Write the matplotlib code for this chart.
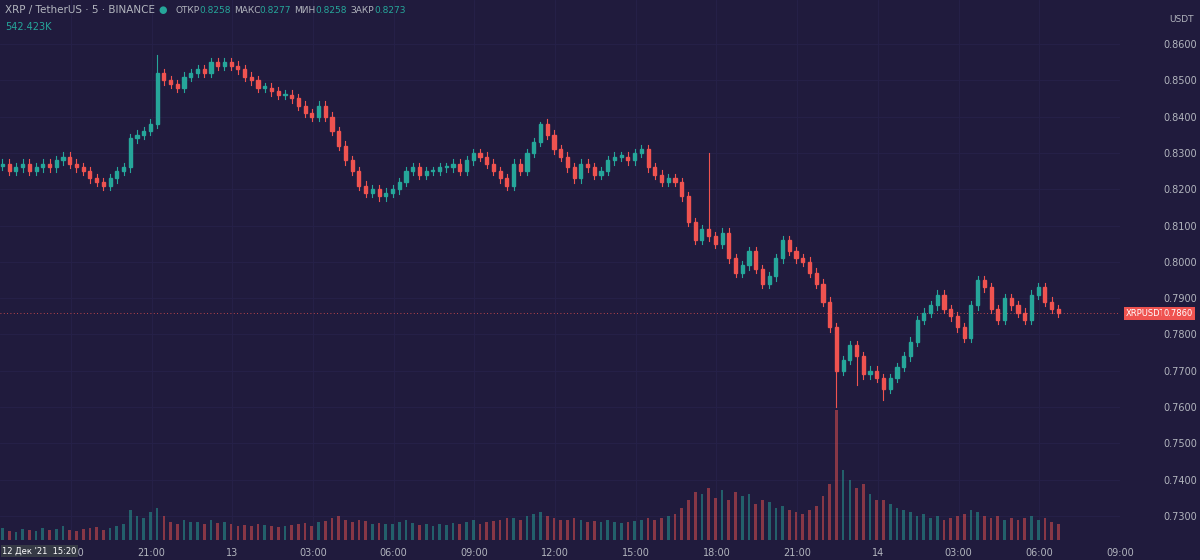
import matplotlib
matplotlib.use("Agg")
import matplotlib.pyplot as plt
from matplotlib.patches import Rectangle

closes = [0.827,0.825,0.826,0.827,0.825,0.826,0.827,0.826,
 0.828,0.829,0.827,0.826, 0.825,0.823,0.822,0.821, 0.823,0.825,0.826,
 0.834,0.835,0.836,0.838, 0.852, 0.850,0.849,0.848,0.851,0.852,
 0.853,0.852,0.855,0.854,0.855, 0.854,0.853,0.851,0.850,0.848,
 0.848,0.847,0.846,0.846,0.845, 0.843,0.841,0.840,0.843,
 0.840,0.836,0.832,0.828,0.825, 0.821,0.819,0.820,0.818,0.819,
 0.820,0.822,0.825,0.826, 0.824,0.825,0.825,0.826,0.826,
 0.827,0.825,0.828,0.830, 0.829,0.827,0.825,0.823,0.821,
 0.827,0.825,0.830,0.833,0.838, 0.835,0.831,0.829,0.826,
 0.823,0.827,0.826,0.824,0.825, 0.828,0.829,0.829,0.828,0.830,
 0.831,0.826,0.824,0.822,0.823, 0.822,0.818,0.811,0.806,
 0.809,0.807,0.805,0.808, 0.801,0.797,0.799,0.803,
 0.798,0.794,0.796,0.801, 0.806,0.803,0.801,0.800,
 0.797,0.794,0.789,0.782, 0.770,0.773,0.777,
 0.774,0.769,0.770,0.768, 0.765,0.768,0.771,0.774,
 0.778,0.784,0.786,0.788, 0.791,0.787,0.785,0.782,
 0.779,0.788,0.795,0.793, 0.787,0.784,0.790,0.788,
 0.786,0.784,0.791,0.793, 0.789,0.787,0.786]
first_open = 0.8265
spike_highs = {23: 0.857, 105: 0.830, 80: 0.8385, 116: 0.807}
spike_lows = {124: 0.760, 131: 0.762, 127: 0.766}
volumes = [60,45,40,55,50,45,60,50, 55,70,50,45, 55,60,65,50, 60,70,80,
 150,120,110,140, 160, 120,90,80,100,90, 90,80,100,85,90, 80,70,75,70,80,
 75,70,65,70,75, 80,85,70,90, 95,110,120,100,90, 100,95,80,85,80,
 80,90,100,85, 75,80,70,80,75, 85,80,90,100, 80,90,95,100,110,
 110,100,120,130,140, 120,110,100,100, 110,100,90,95,90, 100,90,85,90,95,
 100,110,100,110,120, 130,160,200,240, 230,260,210,250, 200,240,220,230,
 180,200,190,160, 170,150,140,130, 150,170,220,280, 650,350,300,
 260,280,230,200, 200,180,160,150, 140,120,130,110, 120,100,110,120,
 130,150,140,120, 110,120,100,110, 100,110,120,100, 110,90,80]
tick_labels = ["18:00","21:00","13","03:00","06:00","09:00","12:00","15:00",
 "18:00","21:00","14","03:00","06:00","09:00"]
price_ticks = [0.73,0.74,0.75,0.76,0.77,0.78,0.79,0.80,0.81,0.82,0.83,0.84,0.85,0.86]

BG = "#201b3d"; UP = "#26a69a"; DN = "#ef5350"; TXT = "#b2b5be"
fig = plt.figure(figsize=(12, 5.6), dpi=100, facecolor=BG)
ax = fig.add_axes([0, 20/560, 1120/1200, 540/560], facecolor=BG)
axv = ax.twinx()
axv.set_ylim(0, 2700); axv.axis("off")

prev = first_open
for i, c in enumerate(closes):
    o = prev
    x = i*15 + 7.5
    col = UP if c >= o else DN
    hi = spike_highs.get(i, max(o, c) + 0.0012)
    lo = spike_lows.get(i, min(o, c) - 0.0012)
    ax.plot([x, x], [lo, hi], color=col, lw=0.8, zorder=3)
    ax.add_patch(Rectangle((x-3.5, min(o, c)), 7, max(abs(c-o), 0.0003), color=col, zorder=4))
    axv.bar(x, volumes[i], width=6, color=col, alpha=0.5, zorder=2)
    prev = c

ax.set_xlim(2, 2461)
ax.set_ylim(0.7234, 0.8721)
ax.set_xticks([160 + 180*k for k in range(len(tick_labels))])
ax.set_xticklabels(tick_labels)
ax.yaxis.tick_right()
ax.set_yticks(price_ticks)
ax.set_yticklabels([f"{p:.4f}" for p in price_ticks])
ax.tick_params(colors=TXT, labelsize=7, length=0, pad=6)
ax.tick_params(axis="y", pad=31)
for s in ax.spines.values():
    s.set_visible(False)
ax.grid(color="#26214a", lw=0.6)
ax.axhline(0.7860, color=DN, lw=0.6, ls=(0, (1, 3)))

fig.text(0.004, 0.982, "XRP / TetherUS · 5 · BINANCE", color=TXT, fontsize=7.5, va="center")
fig.text(0.132, 0.982, "●", color=UP, fontsize=7, va="center")
fig.text(0.146, 0.982, "ОТКР", color=TXT, fontsize=6.5, va="center")
fig.text(0.166, 0.982, "0.8258", color=UP, fontsize=6.5, va="center")
fig.text(0.195, 0.982, "МАКС", color=TXT, fontsize=6.5, va="center")
fig.text(0.216, 0.982, "0.8277", color=UP, fontsize=6.5, va="center")
fig.text(0.245, 0.982, "МИН", color=TXT, fontsize=6.5, va="center")
fig.text(0.263, 0.982, "0.8258", color=UP, fontsize=6.5, va="center")
fig.text(0.292, 0.982, "ЗАКР", color=TXT, fontsize=6.5, va="center")
fig.text(0.312, 0.982, "0.8273", color=UP, fontsize=6.5, va="center")
fig.text(0.004, 0.952, "542.423K", color=UP, fontsize=7, va="center")
fig.text(0.938, 0.44, "XRPUSDT", color="white", fontsize=6, va="center",
         bbox=dict(fc=DN, ec="none", pad=1.5))
fig.text(0.970, 0.44, "0.7860", color="white", fontsize=6, va="center",
         bbox=dict(fc=DN, ec="none", pad=1.5))
fig.text(0.985, 0.96, "USDT", color=TXT, fontsize=6.5, ha="center")
fig.text(0.002, 0.016, "12 Дек '21  15:20", color="white", fontsize=6, va="center",
         zorder=10, bbox=dict(fc="#363a45", ec="none", pad=1.2))
fig.savefig("out.png", facecolor=BG)
